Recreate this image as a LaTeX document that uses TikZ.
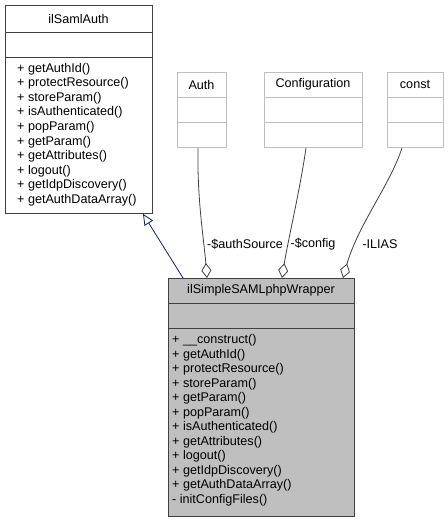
\documentclass[tikz,border=0pt]{standalone}
\usepackage{fontspec}
\setmainfont{Liberation Sans}
\usetikzlibrary{arrows.meta}
\definecolor{edgegrey}{HTML}{404040}
\definecolor{lightbd}{HTML}{BFBFBF}
\definecolor{navyblue}{HTML}{191970}
\definecolor{boxfill}{HTML}{BFBFBF}
\begin{document}
\begin{tikzpicture}[x=1pt,y=-1pt,
  classbox/.style={draw=edgegrey, line width=0.9pt, rectangle, inner sep=0pt, anchor=north west},
  extbox/.style={draw=lightbd, line width=0.9pt, rectangle, inner sep=0pt, anchor=north west},
  txt/.style={inner sep=0pt, font=\fontsize{12.6}{14}\selectfont},
  mtext/.style={txt, anchor=mid west},
  inherit/.style={draw=navyblue, line width=0.8pt, -{Triangle[open, length=11pt, width=10pt]}},
  aggr/.style={draw=edgegrey, line width=0.8pt, {Diamond[open, length=15pt, width=10pt]}-}
]
\useasboundingbox (0,0) rectangle (447,521);

% ilSamlAuth
\node[classbox, minimum width=147pt, minimum height=208pt] (samlauth) at (5,5) {};
\draw[edgegrey, line width=0.9pt] (5,32) -- (152,32);
\draw[edgegrey, line width=0.9pt] (5,57) -- (152,57);
\node[txt] (samlauthtitle) at (78.5,18.5) {ilSamlAuth};
\foreach [count=\i] \t in {getAuthId(), protectResource(), storeParam(), isAuthenticated(), popParam(), getParam(), getAttributes(), logout(), getIdpDiscovery(), getAuthDataArray()}
  \node[mtext] (sa\i) at (17, 69.5+14.6*\i-14.6) {+ \t};

% Auth
\node[extbox, minimum width=49pt, minimum height=75pt] (auth) at (177,72) {};
\draw[lightbd, line width=0.9pt] (177,97) -- (226,97);
\draw[lightbd, line width=0.9pt] (177,122) -- (226,122);
\node[txt] (authtitle) at (201.5,84.5) {Auth};

% Configuration
\node[extbox, minimum width=98pt, minimum height=75pt] (config) at (264,72) {};
\draw[lightbd, line width=0.9pt] (264,97) -- (362,97);
\draw[lightbd, line width=0.9pt] (264,122) -- (362,122);
\node[txt] (configtitle) at (313,84.5) {Configuration};

% const
\node[extbox, minimum width=56pt, minimum height=75pt] (const) at (387,72) {};
\draw[lightbd, line width=0.9pt] (387,97) -- (443,97);
\draw[lightbd, line width=0.9pt] (387,122) -- (443,122);
\node[txt] (consttitle) at (415,84.5) {const};

% ilSimpleSAMLphpWrapper
\node[classbox, fill=boxfill, minimum width=186pt, minimum height=238pt] (wrapper) at (168,278) {};
\draw[edgegrey, line width=0.9pt] (168,303) -- (354,303);
\draw[edgegrey, line width=0.9pt] (168,328) -- (354,328);
\node[txt] (wrappertitle) at (261,290.5) {ilSimpleSAMLphpWrapper};
\foreach [count=\i] \t in {+ \_\_construct(), + getAuthId(), + protectResource(), + storeParam(), + getParam(), + popParam(), + isAuthenticated(), + getAttributes(), + logout(), + getIdpDiscovery(), + getAuthDataArray(), - initConfigFiles()}
  \node[mtext] (wr\i) at (172, 341+14.5*\i-14.5) {\t};

% inheritance
\draw[inherit] ([xshift=15pt]wrapper.north west) -- ([xshift=138pt]samlauth.south west);

% aggregations
\draw[aggr] ([xshift=39pt]wrapper.north west) .. controls (204,240) and (197,200) .. ([xshift=21pt]auth.south west);
\draw[aggr] ([xshift=114pt]wrapper.north west) .. controls (288,240) and (300,190) .. ([xshift=42pt]config.south west);
\draw[aggr] ([xshift=175pt]wrapper.north west) .. controls (358,225) and (390,185) .. ([xshift=15pt]const.south west);

% labels
\node[txt] (lblauth) at (245,244) {-\$authSource};
\node[txt] (lblconfig) at (313,244) {-\$config};
\node[txt] (lblilias) at (380,244) {-ILIAS};
\end{tikzpicture}
\end{document}
